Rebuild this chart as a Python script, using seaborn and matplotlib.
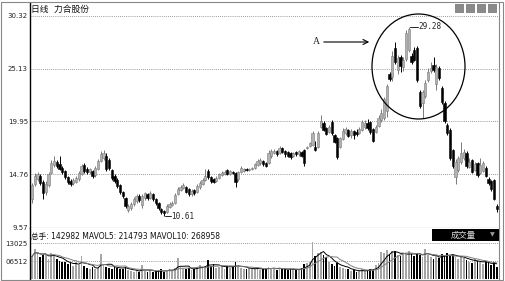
import numpy as np
import pandas as pd
import matplotlib
matplotlib.use("Agg")
import matplotlib.pyplot as plt
from matplotlib.patches import Rectangle, Ellipse
import seaborn as sns

# ---------------- data ----------------
opens = [12.3, 13.8, 14.3, 14.6, 14.0, 13.0, 13.7, 14.9, 15.7, 16.0,
         15.8, 15.4, 15.1, 14.5, 14.1, 13.9, 14.0, 14.3, 14.8, 15.7,
         15.3, 15.0, 15.1, 14.7, 15.3, 16.1, 16.4, 16.6, 16.2, 15.2,
         14.6, 14.2, 13.7, 13.0, 12.4, 11.2, 11.4, 11.8, 12.1, 12.6,
         11.7, 12.4, 12.8, 12.4, 12.8, 12.3, 11.9, 11.3, 11.1, 11.0,
         11.5, 11.7, 11.9, 12.8, 13.2, 13.4, 13.5, 13.3, 12.8, 13.2,
         13.0, 13.5, 13.8, 14.2, 15.1, 14.5, 14.3, 14.1, 14.4, 14.7,
         14.8, 15.2, 14.8, 15.0, 14.9, 14.3, 15.0, 15.1, 15.3, 15.2,
         15.3, 15.4, 15.7, 15.9, 16.1, 15.9, 15.9, 16.6, 16.8, 17.0,
         16.8, 17.3, 17.0, 16.9, 16.8, 16.6, 16.9, 16.7, 16.9, 17.1,
         17.3, 17.5, 17.6, 17.4, 17.4, 19.4, 19.8, 19.3, 18.9, 19.9,
         18.6, 18.3, 17.4, 18.2, 18.8, 19.1, 18.6, 19.0, 18.9, 18.8,
         19.1, 19.4, 19.8, 19.9, 19.2, 18.9, 19.5, 20.1, 20.3, 21.0,
         24.6, 24.3, 27.2, 25.0, 26.3, 25.3, 26.1, 27.0, 26.4, 27.0,
         27.2, 22.8, 21.8, 22.5, 24.0, 24.9, 25.5, 23.6, 25.2, 23.2,
         21.8, 19.6, 19.1, 17.1, 14.5, 15.2, 16.0, 16.4, 16.8, 15.5,
         16.2, 15.2, 15.9, 14.9, 15.1, 15.4, 14.3, 14.1, 14.2, 11.6]

closes = [13.7, 14.6, 14.8, 13.9, 12.9, 13.8, 14.8, 15.9, 16.1, 15.6,
          15.3, 15.0, 14.5, 14.0, 13.8, 14.2, 14.4, 14.9, 15.6, 15.1,
          15.0, 15.3, 14.6, 15.4, 16.1, 16.7, 16.8, 15.3, 15.4, 14.4,
          14.1, 13.6, 13.0, 12.6, 11.6, 11.6, 11.8, 12.3, 12.6, 12.2,
          12.6, 12.9, 12.4, 12.9, 12.3, 11.9, 11.4, 11.0, 10.9, 11.6,
          11.8, 11.9, 12.7, 13.3, 13.5, 13.7, 13.0, 12.8, 13.1, 12.9,
          13.6, 13.9, 14.2, 14.6, 14.5, 14.1, 14.0, 14.4, 14.8, 14.9,
          15.0, 14.8, 15.1, 14.9, 14.0, 15.0, 15.4, 15.3, 15.2, 15.3,
          15.4, 15.8, 16.1, 16.2, 15.8, 15.6, 16.8, 17.0, 17.0, 16.7,
          17.3, 16.9, 16.7, 16.6, 16.5, 16.8, 16.7, 17.0, 16.6, 15.9,
          17.4, 17.8, 18.8, 17.1, 18.8, 20.0, 19.1, 18.7, 19.4, 18.8,
          17.9, 16.5, 18.3, 19.0, 19.2, 18.5, 19.0, 18.6, 18.7, 19.2,
          19.9, 19.8, 19.3, 18.9, 18.0, 19.4, 20.3, 20.8, 22.2, 23.4,
          24.1, 26.4, 25.8, 26.2, 25.4, 26.0, 28.6, 29.0, 25.8, 26.0,
          24.0, 21.5, 22.8, 23.7, 24.8, 25.2, 25.0, 25.3, 24.2, 21.9,
          20.0, 18.8, 16.4, 15.6, 16.0, 16.4, 16.8, 16.9, 15.6, 16.0,
          15.0, 15.8, 14.7, 15.7, 15.9, 14.6, 13.9, 13.3, 12.3, 11.3]

highs = [13.9, 14.9, 15.0, 14.8, 14.2, 14.1, 15.0, 16.2, 16.6, 16.2,
         16.6, 15.6, 15.2, 14.6, 14.3, 14.4, 14.6, 15.1, 15.8, 15.9,
         15.5, 15.4, 15.2, 15.6, 16.3, 17.0, 17.1, 16.8, 16.4, 15.3,
         14.8, 14.4, 13.8, 13.1, 12.5, 11.8, 12.0, 12.5, 12.8, 12.8,
         12.8, 13.0, 12.9, 13.1, 12.9, 12.4, 12.0, 11.4, 11.2, 11.8,
         12.0, 12.1, 12.9, 13.5, 13.7, 13.9, 13.6, 13.4, 13.3, 13.3,
         13.8, 14.1, 14.4, 15.3, 15.3, 14.6, 14.4, 14.6, 14.9, 15.1,
         15.2, 15.3, 15.2, 15.1, 15.0, 15.1, 15.6, 15.4, 15.4, 15.4,
         15.5, 15.9, 16.3, 16.4, 16.2, 16.0, 17.1, 17.2, 17.2, 17.1,
         17.5, 17.4, 17.1, 17.0, 16.9, 16.9, 17.0, 17.1, 17.0, 17.2,
         17.5, 17.9, 19.0, 18.0, 19.0, 20.6, 20.0, 19.4, 19.6, 20.1,
         18.7, 18.4, 18.4, 19.3, 19.4, 19.2, 19.2, 19.1, 19.2, 19.4,
         20.1, 20.1, 20.2, 20.0, 19.3, 19.6, 20.6, 21.2, 22.4, 23.6,
         24.8, 26.9, 27.8, 26.5, 26.5, 26.3, 28.9, 29.28, 26.7, 27.3,
         27.4, 23.0, 23.0, 24.0, 25.2, 25.8, 26.3, 25.6, 25.4, 23.4,
         22.0, 19.8, 19.3, 17.2, 16.3, 16.6, 17.9, 17.2, 17.0, 16.4,
         16.3, 16.0, 16.0, 16.4, 16.1, 15.6, 14.5, 14.2, 14.3, 11.8]

lows = [11.9, 13.6, 14.1, 13.7, 12.3, 12.7, 13.5, 14.8, 15.5, 15.4,
        15.2, 14.8, 14.3, 13.8, 13.6, 13.7, 13.9, 14.1, 14.7, 14.9,
        14.8, 14.8, 14.4, 14.5, 15.2, 16.0, 16.2, 15.1, 15.2, 14.2,
        13.9, 13.4, 12.8, 12.4, 11.4, 11.0, 11.2, 11.6, 11.9, 12.0,
        11.4, 12.2, 12.2, 12.3, 12.1, 11.7, 11.2, 10.8, 10.61, 10.9,
        11.4, 11.6, 11.8, 12.7, 13.1, 13.3, 12.9, 12.6, 12.6, 12.7,
        12.9, 13.3, 13.7, 14.1, 14.3, 13.9, 13.9, 14.0, 14.3, 14.6,
        14.7, 14.7, 14.7, 14.8, 13.5, 14.1, 14.9, 15.0, 15.1, 15.1,
        15.2, 15.3, 15.6, 15.7, 15.6, 15.5, 15.8, 16.4, 16.7, 16.6,
        16.7, 16.8, 16.5, 16.5, 16.3, 16.5, 16.6, 16.6, 16.5, 15.6,
        17.2, 17.4, 17.5, 17.0, 17.3, 19.3, 19.0, 18.6, 18.8, 18.6,
        17.8, 16.3, 17.3, 18.1, 18.6, 18.4, 18.3, 18.2, 18.5, 18.7,
        19.0, 19.2, 19.1, 18.7, 17.9, 18.8, 19.4, 19.9, 20.1, 20.4,
        23.9, 23.9, 25.6, 24.6, 24.8, 24.9, 25.9, 26.8, 25.6, 25.9,
        23.8, 21.3, 20.3, 22.3, 23.8, 24.7, 24.8, 23.0, 24.0, 21.7,
        19.8, 18.6, 16.2, 15.4, 13.8, 15.0, 15.8, 16.2, 15.4, 15.4,
        14.9, 15.1, 14.5, 14.8, 15.0, 14.5, 13.7, 13.1, 12.2, 11.0]

volumes = [260000, 340000, 300000, 250000, 280000, 270000, 230000, 300000, 280000,
           230000, 210000, 190000, 200000, 170000, 180000, 150000, 190000, 160000,
           265000,
           150000, 130000, 120000, 140000, 110000, 130000,
           290000,
           160000, 140000, 130000, 120000, 150000, 130000, 110000, 120000, 140000, 100000,
           90000, 80000, 100000, 85000, 160000, 90000, 80000, 100000, 75000, 90000, 95000,
           110000, 85000, 95000, 120000, 100000, 130000, 240000, 140000,
           120000, 110000, 130000, 100000, 120000, 140000, 160000, 130000, 150000, 215000,
           150000, 170000, 130000, 140000, 160000, 120000, 150000, 130000, 140000, 190000,
           140000, 130000, 120000, 110000, 130000,
           120000, 110000, 130000, 100000, 120000, 110000, 140000, 130000, 120000, 100000,
           130000, 110000, 120000, 100000, 110000, 120000, 100000, 115000, 130000,
           175000, 180000, 195000,
           425000,
           260000, 300000, 310000, 280000, 250000,
           190000, 170000, 150000, 180000, 140000, 130000, 120000,
           110000, 90000, 100000, 80000, 95000, 110000, 90000, 100000, 120000, 105000,
           160000, 180000,
           310000,
           300000, 330000, 290000, 320000,
           320000,
           280000, 260000, 300000, 270000, 320000, 290000, 260000, 300000, 280000, 250000,
           345000,
           280000, 250000, 230000, 260000, 240000, 290000, 270000, 300000, 260000, 280000,
           250000, 230000, 260000, 240000,
           220000, 200000, 180000, 230000, 210000, 190000, 170000, 200000, 180000, 160000,
           190000, 142982]

price_ticks = [9.57, 14.76, 19.95, 25.13, 30.32]
price_tick_labels = ["9.57", "14.76", "19.95", "25.13", "30.32"]
vol_ticks = [206512, 413025]
vol_tick_labels = ["06512", "13025"]
title_text = "日线  力合股份"
vol_header = "总手: 142982 MAVOL5: 214793 MAVOL10: 268958"
high_label = "29.28"
low_label = "10.61"

# ---------------- styling ----------------
sns.set_style("white")
plt.rcParams['font.family'] = ['DejaVu Sans', 'Noto Sans CJK SC']

W, H = 505, 281
fig = plt.figure(figsize=(W / 100, H / 100), dpi=100)
fig.patch.set_facecolor("white")


def fx(x):
    return x / W


def fy(y):
    return 1 - y / H


UP_FACE = "#b2b2b2"
UP_EDGE = "#7a7a7a"
DOWN = "#000000"

n = len(closes)
df = pd.DataFrame(dict(idx=np.arange(n), o=opens, h=highs, l=lows, c=closes, v=volumes))
df["dir"] = np.where(df.c >= df.o, "up", "down")
df["ma5"] = df.v.rolling(5, min_periods=1).mean()
df["ma10"] = df.v.rolling(10, min_periods=1).mean()

xl = ((30 - 32) / 2.75, (499 - 32) / 2.75)

# ---------------- price panel ----------------
axp = fig.add_axes([fx(30), fy(228), fx(499) - fx(30), fy(3) - fy(228)])
axp.set_xlim(*xl)
axp.set_ylim(9.57 - 1 / 10.17, 30.32 + 13 / 10.17)

for lvl in price_ticks[1:]:
    axp.axhline(lvl, color="#7a7a7a", lw=0.6, ls=(0, (1, 1.5)), zorder=0)

wick_colors = [UP_EDGE if d == "up" else DOWN for d in df.dir]
axp.vlines(df.idx, df.l, df.h, colors=wick_colors, lw=0.7, zorder=2)
body_bottom = np.minimum(df.o, df.c)
body_height = np.maximum(np.abs(df.c - df.o), 0.07)
face = [UP_FACE if d == "up" else DOWN for d in df.dir]
edge = [UP_EDGE if d == "up" else DOWN for d in df.dir]
axp.bar(df.idx, body_height, bottom=body_bottom, width=0.75, color=face,
        edgecolor=edge, linewidth=0.4, zorder=3)

axp.set_yticks(price_ticks, price_tick_labels)
axp.set_xticks([])
axp.tick_params(axis="y", length=0, pad=1.5, labelsize=5, labelcolor="#222222")
for s in ["top"]:
    axp.spines[s].set_visible(False)
axp.spines["left"].set_color("black")
axp.spines["left"].set_linewidth(1.0)
axp.spines["right"].set_color("#888888")
axp.spines["right"].set_linewidth(0.8)
axp.spines["bottom"].set_color("#444444")
axp.spines["bottom"].set_linewidth(0.8)

# high / low markers
ih = int(np.argmax(df.h))
il = int(np.argmin(df.l))
axp.plot([ih + 0.3, ih + 3.2], [df.h[ih], df.h[ih]], color="black", lw=0.6)
axp.text(ih + 3.4, df.h[ih], high_label, fontsize=5.5, va="center", ha="left",
         family="DejaVu Sans Mono")
axp.plot([il + 0.3, il + 2.5], [df.l[il], df.l[il]], color="black", lw=0.6)
axp.text(il + 2.7, df.l[il], low_label, fontsize=5.5, va="center", ha="left",
         family="DejaVu Sans Mono")

# annotation A + circle
axp.text((313 - 32) / 2.75, 30.32 - 26 / 10.17, "A", fontsize=7, family="Liberation Serif",
         va="center", ha="left")
axp.annotate("", xy=((372 - 32) / 2.75, 30.32 - 26 / 10.17),
             xytext=((321 - 32) / 2.75, 30.32 - 26 / 10.17),
             arrowprops=dict(arrowstyle="->", lw=0.8, color="black", mutation_scale=9))
axp.add_patch(Ellipse(((418.5 - 32) / 2.75, 30.32 - 50.5 / 10.17), 93 / 2.75, 105 / 10.17,
                      fill=False, ec="black", lw=0.9, zorder=4))

# ---------------- volume panel ----------------
axv = fig.add_axes([fx(30), fy(279), fx(499) - fx(30), fy(228) - fy(279)])
sns.barplot(data=df, x="idx", y="v", hue="dir", palette={"up": "#a6a6a6", "down": "#000000"},
            native_scale=True, width=0.7, dodge=False, legend=False, linewidth=0,
            saturation=1, ax=axv, zorder=2)
sns.lineplot(data=df, x="idx", y="ma5", color="black", lw=0.7, ax=axv, zorder=3)
sns.lineplot(data=df, x="idx", y="ma10", color="#808080", lw=0.7, ax=axv, zorder=3)
axv.set_xlim(*xl)
axv.set_ylim(0, 51 * 413025 / 36)
for lvl in vol_ticks:
    axv.axhline(lvl, color="#7a7a7a", lw=0.6, ls=(0, (1, 1.5)), zorder=1)
axv.set_yticks(vol_ticks, vol_tick_labels)
axv.set_xticks([])
axv.set_xlabel("")
axv.set_ylabel("")
axv.tick_params(axis="y", length=0, pad=1.5, labelsize=5, labelcolor="#222222")
axv.spines["top"].set_visible(False)
axv.spines["bottom"].set_visible(False)
axv.spines["left"].set_color("black")
axv.spines["left"].set_linewidth(1.0)
axv.spines["right"].set_color("#888888")
axv.spines["right"].set_linewidth(0.8)

# ---------------- texts & decorations ----------------
fig.text(fx(31), fy(9), title_text, fontsize=6.3, va="center", ha="left", color="#111111")
fig.text(fx(31), fy(236), vol_header, fontsize=5.5, va="center", ha="left", color="#111111")

fig.add_artist(Rectangle((fx(432), fy(241)), fx(499) - fx(432), fy(229) - fy(241),
                         transform=fig.transFigure, color="black", lw=0))
fig.text(fx(463), fy(235), "成交量", fontsize=6, va="center", ha="center", color="#dddddd")
fig.text(fx(492), fy(235), "▼", fontsize=4.5, va="center", ha="center", color="#999999")

for x0 in [455, 466, 477, 488]:
    fig.add_artist(Rectangle((fx(x0), fy(13)), fx(9), fy(4) - fy(13),
                             transform=fig.transFigure, color="#8a8a8a", lw=0))

fig.add_artist(Rectangle((fx(1), fy(280)), fx(502), fy(2) - fy(280),
                         transform=fig.transFigure, fill=False, ec="#888888", lw=0.8))

fig.savefig("out.png", dpi=100, facecolor="white")
